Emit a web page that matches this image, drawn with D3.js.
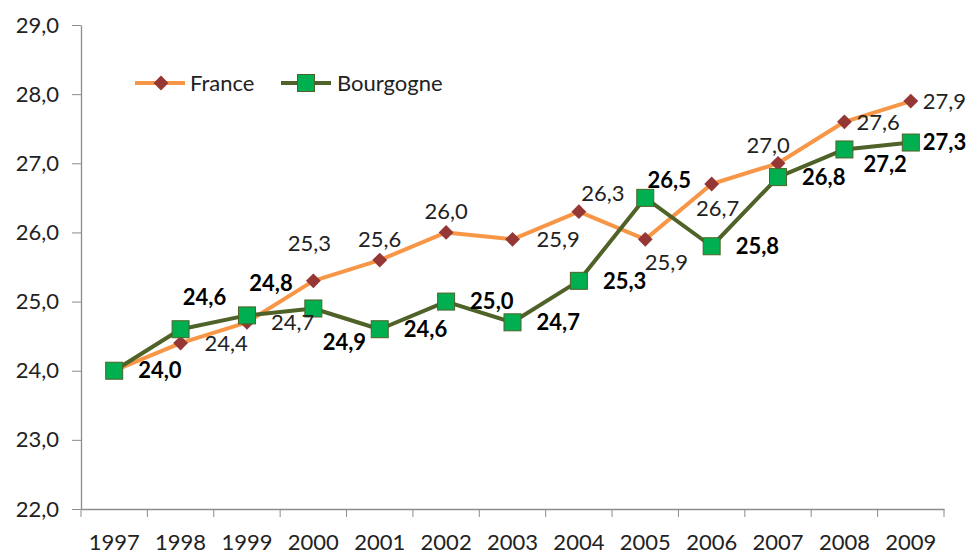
<!DOCTYPE html>
<html>
<head>
<meta charset="utf-8">
<script src="https://cdn.jsdelivr.net/npm/d3@7"></script>
<style>
  body { margin: 0; background: #fff; }
  text { font-family: Lato, "Open Sans", sans-serif; }
</style>
</head>
<body>
<div id="chart"></div>
<script>
var years = ['1997','1998','1999','2000','2001','2002','2003','2004','2005','2006','2007','2008','2009']
var france = [24.0, 24.4, 24.7, 25.3, 25.6, 26.0, 25.9, 26.3, 25.9, 26.7, 27.0, 27.6, 27.9]
var bourgogne = [24.0, 24.6, 24.8, 24.9, 24.6, 25.0, 24.7, 25.3, 26.5, 25.8, 26.8, 27.2, 27.3]
var yTicks = [22, 23, 24, 25, 26, 27, 28, 29]
// where each value label sits relative to its point
var franceLabelPos = ['none','right','right','aboveFar','above','above','right','aboveRight','belowRight','below','aboveLeft','rightNear','rightNear']
var bourgogneLabelPos = ['right','highRight','highRight','lowRight','right','right','right','right','aboveRight','right','right','rightLow','rightNear']

var width = 966, height = 557,
    margin = {top: 25, right: 22, bottom: 48, left: 81}
var chartWidth = width - margin.left - margin.right,
    chartHeight = height - margin.top - margin.bottom
var fontSize = 22

var svg = d3.select('#chart').append('svg').attr('width', width).attr('height', height)
var g = svg.append('g').attr('transform', 'translate(' + margin.left + ',' + margin.top + ')')

var x = d3.scaleBand().domain(years).range([0, chartWidth])
var y = d3.scaleLinear().domain([22, 29]).range([chartHeight, 0])
var fmt = v => d3.format('.1f')(v).replace('.', ',')
var cx = d => x(d) + x.bandwidth() / 2

// axes
var axisColor = '#8c8c8c'
var yAxis = g.append('g').call(d3.axisLeft(y).tickValues(yTicks).tickFormat(fmt).tickSize(9).tickPadding(13))
var xAxis = g.append('g').attr('transform', 'translate(0,' + chartHeight + ')')
  .call(d3.axisBottom(x).tickSize(0).tickPadding(25))
// category boundaries as ticks
xAxis.selectAll('line.bound').data(d3.range(years.length + 1)).enter().append('line')
  .attr('class', 'bound')
  .attr('x1', i => i * x.step()).attr('x2', i => i * x.step())
  .attr('y1', 0).attr('y2', 8)
  .attr('stroke', axisColor)
;[yAxis, xAxis].forEach(a => {
  a.select('.domain').attr('stroke', axisColor).attr('stroke-width', 1.3)
  a.selectAll('.tick line').attr('stroke', axisColor)
  a.selectAll('.tick text').attr('font-size', fontSize).attr('fill', '#222').style('font-family', 'Lato, sans-serif')
})
yAxis.select('.domain').attr('d', 'M0.5,' + chartHeight + 'V0.5')

var line = d3.line().x((d, i) => cx(years[i])).y(d => y(d))

// France
g.append('path').datum(france).attr('d', line)
  .attr('fill', 'none').attr('stroke', '#F79646').attr('stroke-width', 4).attr('stroke-linejoin', 'round')
g.selectAll('path.diamond').data(france).enter().append('path')
  .attr('class', 'diamond')
  .attr('d', d3.symbol().type(d3.symbolDiamond2).size(140))
  .attr('transform', (d, i) => 'translate(' + cx(years[i]) + ',' + y(d) + ')')
  .attr('fill', '#953735')

// Bourgogne
g.append('path').datum(bourgogne).attr('d', line)
  .attr('fill', 'none').attr('stroke', '#4F6228').attr('stroke-width', 4).attr('stroke-linejoin', 'round')
g.selectAll('rect.square').data(bourgogne).enter().append('rect')
  .attr('class', 'square')
  .attr('x', (d, i) => cx(years[i]) - 8.5).attr('y', d => y(d) - 8.5)
  .attr('width', 17).attr('height', 17)
  .attr('fill', '#00B050').attr('stroke', '#4F6228').attr('stroke-width', 1)

// value labels: [dx, dy, anchor]
var offsets = {
  right: [24, 0, 'start'],
  rightNear: [12, 0, 'start'],
  rightLow: [19, 15, 'start'],
  above: [0, -21, 'middle'],
  aboveFar: [-4, -38, 'middle'],
  aboveLeft: [-10, -18, 'middle'],
  aboveRight: [24, -18, 'middle'],
  highRight: [24, -32, 'middle'],
  below: [6, 24, 'middle'],
  belowRight: [21, 23, 'middle'],
  lowRight: [31, 34, 'middle']
}
function addLabels(values, pos, bold, color) {
  values.forEach((v, i) => {
    if (pos[i] === 'none') return
    var o = offsets[pos[i]]
    g.append('text')
      .attr('x', cx(years[i]) + o[0])
      .attr('y', y(v) + o[1])
      .attr('dy', '0.35em')
      .attr('text-anchor', o[2])
      .attr('font-size', fontSize)
      .attr('font-weight', bold ? 'bold' : 'normal')
      .attr('fill', color)
      .text(fmt(v))
  })
}
addLabels(france, franceLabelPos, false, '#222')
addLabels(bourgogne, bourgogneLabelPos, true, '#000')

// legend
var legend = svg.append('g').attr('transform', 'translate(135,83)')
legend.append('line').attr('x1', 0).attr('x2', 50).attr('stroke', '#F79646').attr('stroke-width', 4)
legend.append('path').attr('d', d3.symbol().type(d3.symbolDiamond2).size(140)).attr('transform', 'translate(26,0)').attr('fill', '#953735')
legend.append('text').attr('x', 55).attr('dy', '0.35em').attr('font-size', fontSize).attr('fill', '#222').text('France')
legend.append('line').attr('x1', 146).attr('x2', 196).attr('stroke', '#4F6228').attr('stroke-width', 4)
legend.append('rect').attr('x', 162.5).attr('y', -8.5).attr('width', 17).attr('height', 17)
  .attr('fill', '#00B050').attr('stroke', '#4F6228')
legend.append('text').attr('x', 202).attr('dy', '0.35em').attr('font-size', fontSize).attr('fill', '#222').text('Bourgogne')
</script>
</body>
</html>
